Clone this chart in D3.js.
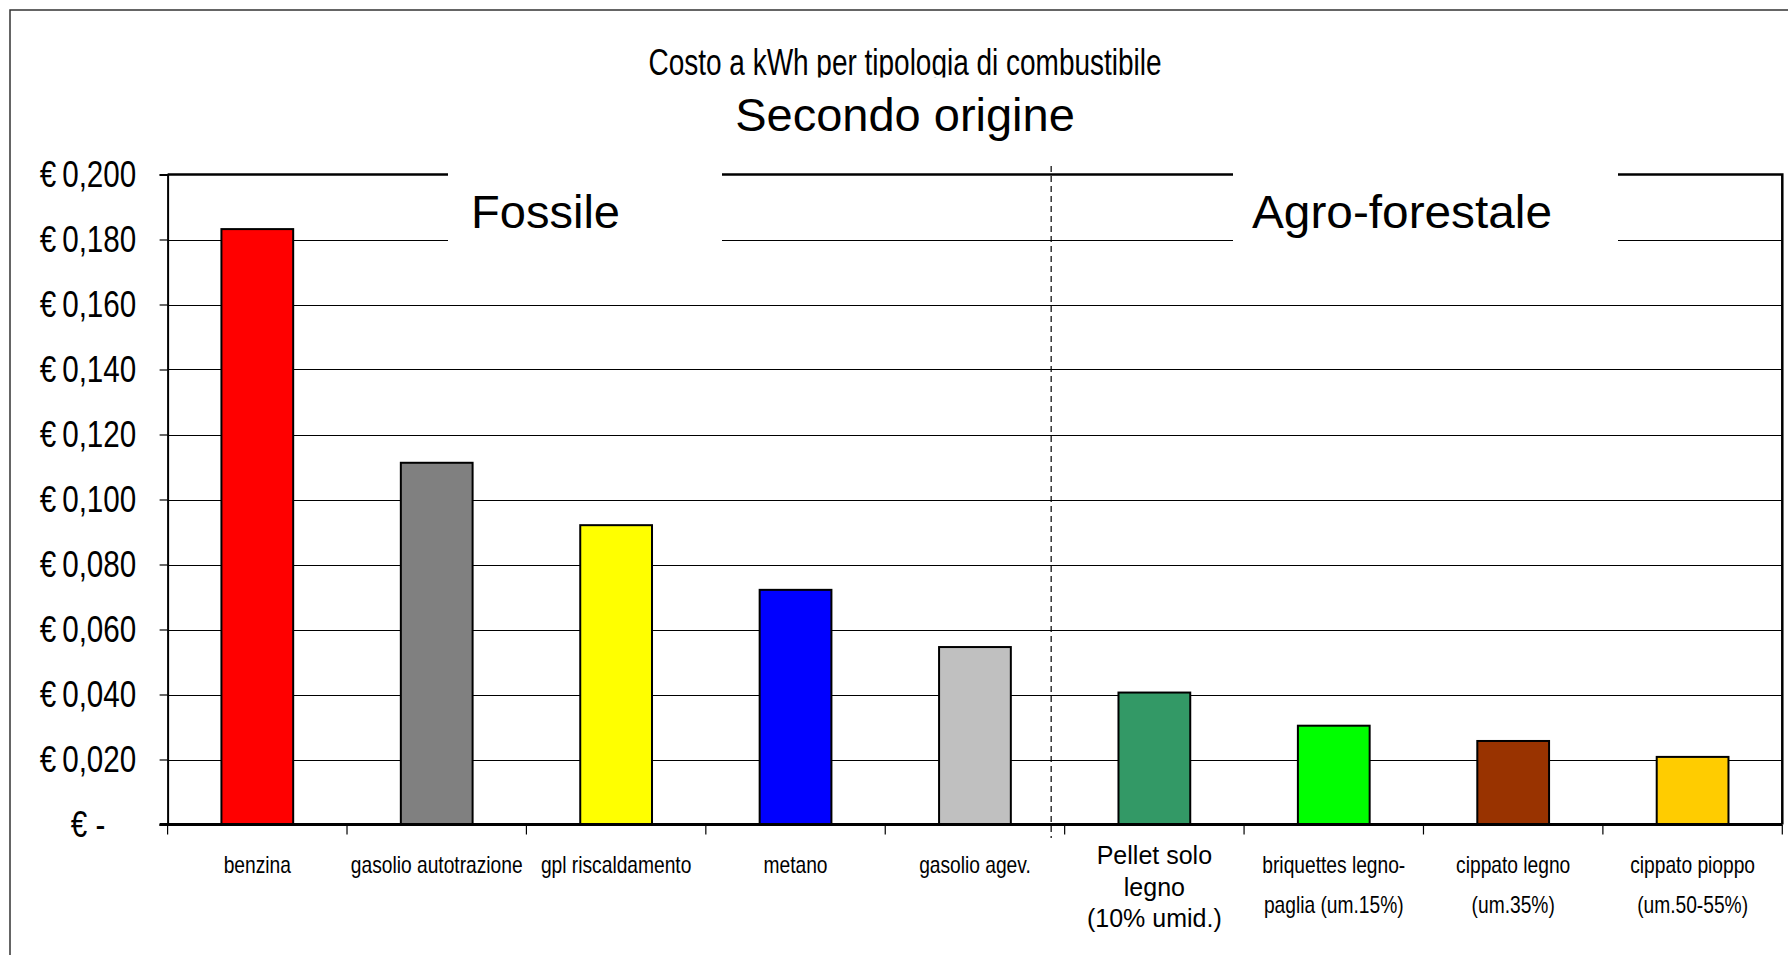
<!DOCTYPE html>
<html lang="it">
<head>
<meta charset="utf-8">
<title>Costo a kWh per tipologia di combustibile</title>
<script src="https://cdn.jsdelivr.net/npm/d3@7"></script>
<style>
  html, body { margin: 0; padding: 0; background: #fff; }
  svg { display: block; font-family: "Liberation Sans", Arial, sans-serif; }
</style>
</head>
<body>
<svg id="chart" width="1788" height="955"></svg>
<script>
// data
const categories = [
  'benzina',
  'gasolio autotrazione',
  'gpl riscaldamento',
  'metano',
  'gasolio agev.',
  'Pellet solo\nlegno\n(10% umid.)',
  'briquettes legno-\npaglia (um.15%)',
  'cippato legno\n(um.35%)',
  'cippato pioppo\n(um.50-55%)'
];
const costs = [0.1832, 0.1113, 0.0921, 0.0722, 0.0546, 0.0406, 0.0304, 0.0257, 0.0208];
const barColors = ['#ff0000', '#808080', '#ffff00', '#0000ff', '#c0c0c0', '#339966', '#00ff00', '#993300', '#ffcc00'];
const yTickValues = [0, 0.02, 0.04, 0.06, 0.08, 0.10, 0.12, 0.14, 0.16, 0.18, 0.20];
const groupNames = ['Fossile', 'Agro-forestale'];
const firstAgroIndex = 5;
const titleText = 'Costo a kWh per tipologia di combustibile';
const subtitleText = 'Secondo origine';

(function () {
  const svg = d3.select('#chart');
  const plot = { left: 167.6, right: 1782.3, top: 174.5, bottom: 824.5 };
  const NARROW = 0.8;                 // stand-in for Arial Narrow
  const plainLabels = new Set([categories[5]]);

  const x = d3.scaleBand()
    .domain(categories)
    .range([plot.left, plot.right])
    .paddingInner(0.6)
    .paddingOuter(0.3);
  const step = x.step();
  const boundary = i => plot.left + i * step;

  const y = d3.scaleLinear().domain([0, 0.2]).range([plot.bottom, plot.top]);

  const fmt = v => v === 0 ? '€ -' : '€\u2009' + d3.format('.3f')(v).replace('.', ',');

  // outer frame of the chart (runs off the page at right/bottom)
  svg.append('rect')
    .attr('x', 10).attr('y', 10).attr('width', 1800).attr('height', 980)
    .attr('fill', '#fff').attr('stroke', '#333').attr('stroke-width', 1.5);

  // titles
  svg.append('clipPath').attr('id', 'titleClip')
    .append('rect').attr('x', 0).attr('y', 0).attr('width', 1788).attr('height', 77.5);

  svg.append('text')
    .attr('clip-path', 'url(#titleClip)')
    .attr('x', 905).attr('y', 75)
    .attr('text-anchor', 'middle')
    .attr('font-size', 36)
    .attr('textLength', 513)
    .attr('lengthAdjust', 'spacingAndGlyphs')
    .text(titleText);

  svg.append('text')
    .attr('x', 905).attr('y', 131)
    .attr('text-anchor', 'middle')
    .attr('font-size', 47)
    .text(subtitleText);

  // gridlines
  svg.append('g')
    .selectAll('line')
    .data(yTickValues.filter(v => v > 0 && v < 0.2))
    .join('line')
    .attr('x1', plot.left).attr('x2', plot.right)
    .attr('y1', d => Math.round(y(d)) + 0.5).attr('y2', d => Math.round(y(d)) + 0.5)
    .attr('stroke', '#000').attr('stroke-width', 1);

  // plot area top/right edge
  svg.append('path')
    .attr('d', `M${plot.left},${plot.top}H${plot.right}V${plot.bottom}`)
    .attr('fill', 'none').attr('stroke', '#000').attr('stroke-width', 2.5);

  // y axis
  const yAxis = d3.axisLeft(y)
    .tickValues(yTickValues)
    .tickSize(8)
    .tickPadding(0)
    .tickFormat(fmt);
  const gy = svg.append('g')
    .attr('transform', `translate(${plot.left},0)`)
    .call(yAxis);
  gy.select('.domain').attr('stroke', '#000').attr('stroke-width', 2);
  gy.selectAll('.tick line').attr('stroke', '#000').attr('stroke-width', 1.2);
  gy.selectAll('.tick text')
    .attr('x', null)
    .attr('dy', null)
    .attr('text-anchor', 'middle')
    .attr('font-family', '"Liberation Sans", Arial, sans-serif')
    .attr('font-size', 37)
    .attr('fill', '#000')
    .attr('transform', `translate(${88 - plot.left},12) scale(${NARROW},1)`);

  // bars
  svg.append('g')
    .selectAll('rect')
    .data(categories)
    .join('rect')
    .attr('x', d => x(d))
    .attr('y', (d, i) => y(costs[i]))
    .attr('width', x.bandwidth())
    .attr('height', (d, i) => y(0) - y(costs[i]))
    .attr('fill', (d, i) => barColors[i])
    .attr('stroke', '#000')
    .attr('stroke-width', 2);

  // x axis line and category ticks
  svg.append('line')
    .attr('x1', plot.left - 8).attr('x2', plot.right)
    .attr('y1', plot.bottom).attr('y2', plot.bottom)
    .attr('stroke', '#000').attr('stroke-width', 3);
  svg.append('g')
    .selectAll('line')
    .data(d3.range(categories.length + 1))
    .join('line')
    .attr('x1', boundary).attr('x2', boundary)
    .attr('y1', plot.bottom).attr('y2', plot.bottom + 10)
    .attr('stroke', '#000').attr('stroke-width', 1.2);

  // category labels
  const lab = svg.append('g')
    .selectAll('g')
    .data(categories)
    .join('g')
    .attr('transform', d => `translate(${x(d) + x.bandwidth() / 2},0)`);
  lab.each(function (d) {
    const g = d3.select(this);
    const lines = d.split('\n');
    const plain = plainLabels.has(d);
    lines.forEach((line, k) => {
      g.append('text')
        .attr('text-anchor', 'middle')
        .attr('font-size', plain ? 25 : 24)
        .attr('transform', plain
          ? `translate(0,${864 + k * 31.5})`
          : `translate(0,${873 + k * 40}) scale(${NARROW},1)`)
        .text(line);
    });
  });

  // divider between fossil and agro-forestry fuels
  const divX = boundary(firstAgroIndex) - 13.5;
  svg.append('line')
    .attr('x1', divX).attr('x2', divX)
    .attr('y1', 166).attr('y2', 838)
    .attr('stroke', '#000').attr('stroke-width', 1.2)
    .attr('stroke-dasharray', '6,4');

  // group captions in white boxes over the top gridlines
  const groupBoxes = [
    { x0: 448, x1: 722, tx: 471, tw: 149 },
    { x0: 1233, x1: 1618, tx: 1252, tw: 300 }
  ];
  groupNames.forEach((name, i) => {
    const b = groupBoxes[i];
    svg.append('rect')
      .attr('x', b.x0).attr('y', 165)
      .attr('width', b.x1 - b.x0).attr('height', 82)
      .attr('fill', '#fff');
    svg.append('text')
      .attr('x', b.tx).attr('y', 228)
      .attr('font-size', 46)
      .attr('textLength', b.tw)
      .attr('lengthAdjust', 'spacingAndGlyphs')
      .text(name);
  });
})();
</script>
</body>
</html>
